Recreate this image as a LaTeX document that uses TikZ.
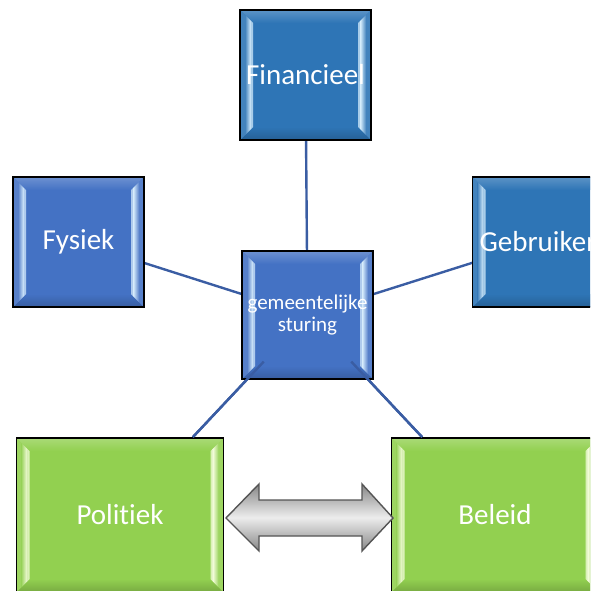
\documentclass[tikz,border=0pt]{standalone}
\usepackage{fontspec}
\setmainfont{Carlito}[Ligatures=NoCommon]
\usetikzlibrary{calc}

\definecolor{blueA}{HTML}{2E75B6}
\definecolor{blueB}{HTML}{4472C4}
\definecolor{greenA}{HTML}{92D050}
\definecolor{paleblue}{HTML}{DDF2FF}
\definecolor{palegreen}{HTML}{FAFFE4}
\definecolor{linkblue}{HTML}{3A5DA3}
\definecolor{arrowedge}{HTML}{555555}
\definecolor{arrowdark}{HTML}{868686}
\definecolor{arrowlight}{HTML}{EDEDED}

% bevelled faces drawn inside a box: #1 base colour, #2 highlight colour
\newcommand\bevelfaces[2]{%
  \def\bw{13pt}\def\bs{5pt}%
  \coordinate (bNW) at (path picture bounding box.north west);
  \coordinate (bNE) at (path picture bounding box.north east);
  \coordinate (bSW) at (path picture bounding box.south west);
  \coordinate (bSE) at (path picture bounding box.south east);
  % top and bottom faces
  \shade[top color=#1!78!white, bottom color=#1]
    (bNW) -- (bNE) -- ([shift={(-\bw,-\bw)}]bNE) -- ([shift={(\bw,-\bw)}]bNW) -- cycle;
  \shade[top color=#1, bottom color=#1!82!black]
    (bSW) -- (bSE) -- ([shift={(-\bw,\bw)}]bSE) -- ([shift={(\bw,\bw)}]bSW) -- cycle;
  % side faces
  \fill[#1!90!white]
    (bNW) -- ([shift={(\bw,-\bw)}]bNW) -- ([shift={(\bw,\bw)}]bSW) -- (bSW) -- cycle;
  \fill[#1!90!white]
    (bNE) -- ([shift={(-\bw,-\bw)}]bNE) -- ([shift={(-\bw,\bw)}]bSE) -- (bSE) -- cycle;
  % highlight strips near the inner edge of the side faces
  \shade[left color=#1!90!white, right color=#2]
    ([shift={(\bs,-\bs)}]bNW) -- ([shift={(\bw-2pt,-\bw+2pt)}]bNW) -- ([shift={(\bw-2pt,\bw-2pt)}]bSW) -- ([shift={(\bs,\bs)}]bSW) -- cycle;
  \fill[#2!70!#1]
    ([shift={(\bw-2pt,-\bw+2pt)}]bNW) -- ([shift={(\bw,-\bw)}]bNW) -- ([shift={(\bw,\bw)}]bSW) -- ([shift={(\bw-2pt,\bw-2pt)}]bSW) -- cycle;
  \shade[left color=#2, right color=#1!90!white]
    ([shift={(-\bw+2pt,-\bw+2pt)}]bNE) -- ([shift={(-\bs,-\bs)}]bNE) -- ([shift={(-\bs,\bs)}]bSE) -- ([shift={(-\bw+2pt,\bw-2pt)}]bSE) -- cycle;
  \fill[#2!70!#1]
    ([shift={(-\bw,-\bw)}]bNE) -- ([shift={(-\bw+2pt,-\bw+2pt)}]bNE) -- ([shift={(-\bw+2pt,\bw-2pt)}]bSE) -- ([shift={(-\bw,\bw)}]bSE) -- cycle;
}

\tikzset{
  box/.style={draw=black, line width=1.6pt, inner sep=0pt, text=white,
    font=\fontsize{29}{33}\selectfont, align=center},
  smallbox/.style={box, minimum width=131pt, minimum height=130pt},
  bigbox/.style={box, minimum width=207pt, minimum height=154pt},
  bluebevel/.style={fill=#1, path picture={\bevelfaces{#1}{paleblue}}},
  greenbevel/.style={fill=greenA, path picture={\bevelfaces{greenA}{palegreen}}},
  link/.style={draw=linkblue, line width=2.4pt},
  blockarrow/.style={draw=arrowedge, line width=1.4pt, line join=miter,
    top color=arrowdark, bottom color=arrowdark, middle color=arrowlight},
}

\begin{document}
\begin{tikzpicture}[x=1pt, y=-1pt]
  \useasboundingbox (0,0) rectangle (590,591);
  \clip (0,0) rectangle (590,591);

  % node positions
  \coordinate (pFin) at (305.5,75);
  \coordinate (pFys) at (78.5,242);
  \coordinate (pGeb) at (538,242);
  \coordinate (pCen) at (307.5,315);
  \coordinate (pPol) at (120,515);
  \coordinate (pBel) at (495,515);

  % invisible anchors so that the links can be laid down first
  \node[smallbox, draw=none] (fin0) at (pFin) {};
  \node[smallbox, draw=none] (fys0) at (pFys) {};
  \node[smallbox, draw=none] (geb0) at (pGeb) {};
  \node[smallbox, draw=none, minimum height=128pt] (cen0) at (pCen) {};
  \node[bigbox, draw=none] (pol0) at (pPol) {};
  \node[bigbox, draw=none] (bel0) at (pBel) {};

  % links behind the boxes
  \draw[link] (cen0.center) -- (fin0.center);
  \draw[link] (cen0.center) -- (fys0.center);
  \draw[link] (cen0.center) -- (geb0.center);
  \draw[link] (cen0.center) -- (pol0);
  \draw[link] (cen0.center) -- (bel0);

  % boxes
  \node[smallbox, bluebevel=blueA] (fin) at (pFin) {Financieel};
  \node[smallbox, bluebevel=blueB] (fys) at (pFys) {Fysiek};
  \node[smallbox, bluebevel=blueA] (geb) at (pGeb) {Gebruiker};
  \node[bigbox, greenbevel] (pol) at (pPol) {Politiek};
  \node[bigbox, greenbevel] (bel) at (pBel) {Beleid};
  \node[smallbox, bluebevel=blueB, minimum height=128pt,
        font=\fontsize{21}{22}\selectfont] (cen) at (pCen) {gemeentelijke\\sturing};

  % lower links show through the bevelled corners of the centre box
  \draw[link, shorten <=64pt] (cen.center) -- (pol);
  \draw[link, shorten <=64pt] (cen.center) -- (bel);

  % double block arrow between the two lower boxes
  \path[blockarrow]
    (226,518) -- (259,484) -- (259,500) -- (362,500) -- (362,484)
    -- (393,518) -- (362,551) -- (362,536) -- (259,536) -- (259,551) -- cycle;
\end{tikzpicture}
\end{document}
